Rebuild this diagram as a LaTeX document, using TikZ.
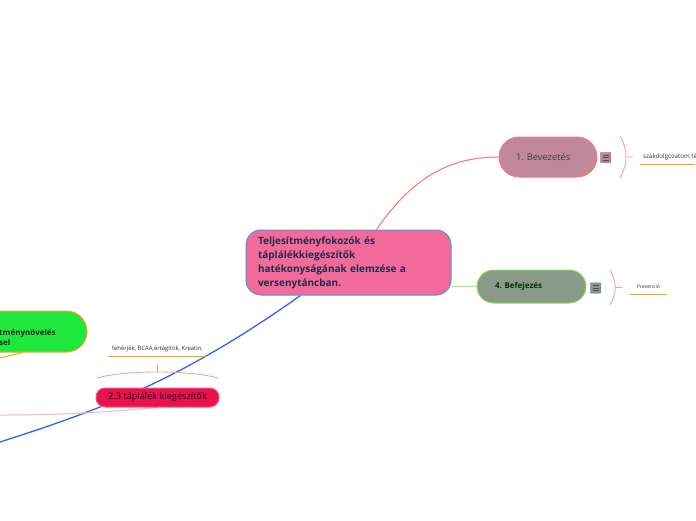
\documentclass[tikz,border=0pt]{standalone}
\usepackage{fontspec}
\setmainfont{Open Sans}
\usetikzlibrary{backgrounds}
\frenchspacing
\definecolor{mainfill}{HTML}{F26A9A}
\definecolor{mainline}{HTML}{5B8ED8}
\definecolor{maintext}{HTML}{232B4C}
\definecolor{introfill}{HTML}{C1889B}
\definecolor{introline}{HTML}{F27E78}
\definecolor{outrofill}{HTML}{8A9A8A}
\definecolor{outroline}{HTML}{8EE24A}
\definecolor{boostfill}{HTML}{1DE83B}
\definecolor{boostline}{HTML}{F2A41C}
\definecolor{supfill}{HTML}{E8134E}
\definecolor{supline}{HTML}{F25C7E}
\definecolor{bluelink}{HTML}{2E64F0}
\definecolor{salmon}{HTML}{F4756E}
\definecolor{bracecol}{HTML}{F2A084}
\definecolor{ulinecol}{HTML}{F5A00F}
\definecolor{paleline}{HTML}{F8B8B8}
\tikzset{
  topic/.style={draw, line width=1pt, inner ysep=0pt},
  menu/.style={draw=#1!80!black, fill=#1, minimum size=10.5pt, inner sep=0pt, rounded corners=1pt,
    path picture={\foreach \k in {-2.6,0,2.6}
      \draw[line width=0.8pt, black!70] ([xshift=-3pt,yshift=\k pt]path picture bounding box.center) -- ++(6pt,0);}},
  note/.style={font=\fontsize{5}{6}\selectfont, text=black!80, inner sep=0pt, minimum height=14pt},
  uline/.style={draw=ulinecol, line width=1.3pt},
  brace/.style={bracecol, line width=0.8pt},
  link/.style={line width=1pt}
}
\begin{document}
\begin{tikzpicture}[x=1pt,y=-1pt]
\useasboundingbox (0,0) rectangle (696,520);
\clip (0,0) rectangle (696,520);

\node[topic, fill=mainfill, draw=mainline, rounded corners=15pt, minimum width=205pt, minimum height=65pt,
  inner xsep=12pt, text width=181pt, align=left, text=maintext, font=\bfseries\fontsize{10}{14}\selectfont]
  (main) at (348.5,262.5) {Teljesítményfokozók és\\ táplálékkiegészítők\\ hatékonyságának elemzése a\\ versenytáncban.};

\node[topic, fill=introfill, draw=introline, rounded corners=20pt, minimum width=98pt, minimum height=40pt,
  inner xsep=17pt, text width=64pt, align=left, text=black!75, font=\fontsize{9.3}{11}\selectfont]
  (intro) at (548,157) {1. Bevezetés};
\node[menu=introfill] (intromenu) at (605.5,157.5) {};

\node[topic, fill=outrofill, draw=outroline, rounded corners=16.5pt, minimum width=109pt, minimum height=33pt,
  inner xsep=18pt, text width=73pt, align=left, text=black!80!green, font=\bfseries\fontsize{8}{9}\selectfont]
  (outro) at (531.5,286.5) {4. Befejezés};
\node[menu=outrofill] (outromenu) at (595.5,288) {};

\node[topic, fill=supfill, draw=supline, rounded corners=9pt, minimum width=123pt, minimum height=19pt,
  text=black!90, font=\fontsize{9.2}{10}\selectfont]
  (sup) at (157.5,397.5) {2.3 táplálék kiegészítők};

\node[topic, fill=boostfill, draw=boostline, rounded corners=20.5pt, minimum width=147pt, minimum height=41pt]
  (boost) at (13.5,331.5) {};
\node[anchor=west, inner sep=0pt, align=left, text=black!85, font=\bfseries\fontsize{8}{10}\selectfont]
  (boostlbl) at (-1,337.5) {tménynövelés\\sel};

% notes
\node[note, anchor=west, inner xsep=3pt, font=\fontsize{6.2}{7}\selectfont] (introtxt) at (640,157) {szakdolgozatom té};
\draw[uline] (introtxt.south west) -- ++(55,0);
\node[note, minimum width=37pt] (outrotxt) at (648.5,287) {Prevenció};
\draw[uline] (outrotxt.south west) -- (outrotxt.south east);
\node[note, minimum width=99pt, font=\fontsize{5.9}{7}\selectfont] (suptxt) at (157.5,349) {fehérjék, BCAA,értágítók, Kreatin,};
\draw[uline] (suptxt.south west) -- (suptxt.south east);

\draw[brace] (620,136) .. controls (628,150) and (628,164) .. (620,178) (626,157) -- (633,157);
\draw[brace] (610,270) .. controls (617,282) and (617,293) .. (610,305) (615.5,287.5) -- (622,287.5);
\draw[brace] (97,378) .. controls (125,370) and (190,370) .. (218,378) (157.5,372) -- (157.5,365);

\begin{scope}[on background layer]
\clip (0,0) rectangle (696,520);
\coordinate (offblue) at (0,442);
\coordinate (offpale) at (0,415);
\coordinate (offboost) at (0,358);
\draw[link, salmon] ([xshift=28pt]main.north) to[out=55,in=180] (intro.west);
\draw[link, outroline!80] ([yshift=-24pt]main.east) -- (outro.west);
\draw[link, bluelink, line width=1.3pt] ([xshift=-48pt]main.south) .. controls +(-120,85) and +(100,-32) .. (offblue);
\draw[link, paleline] (sup.south) to[out=185,in=0] (offpale);
\draw[link, boostline] ([xshift=9.5pt]boost.south) -- (offboost);
\end{scope}
\end{tikzpicture}
\end{document}
